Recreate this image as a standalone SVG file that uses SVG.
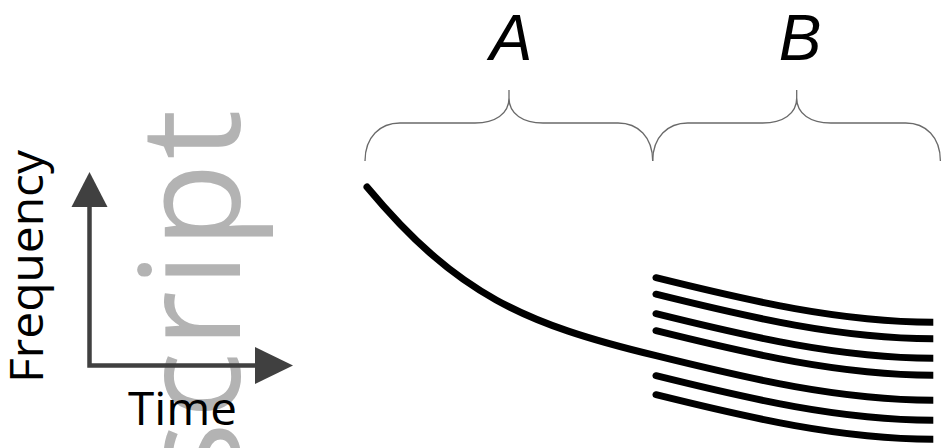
<svg xmlns="http://www.w3.org/2000/svg" width="942" height="448" viewBox="0 0 942 448">
  <style>
    .wm { font-family: "Open Sans", "Noto Sans", sans-serif; font-weight: 400; fill: #b3b3b3; letter-spacing: 3.5px; }
    .ax { fill: none; stroke: #404040; stroke-width: 4.5; stroke-linejoin: miter; }
    .head { fill: #404040; }
    .lbl { font-family: "Open Sans", "Noto Sans", sans-serif; font-size: 45px; fill: #000; }
    .sec { font-family: "Liberation Sans", Arial, sans-serif; font-style: italic; font-size: 64px; fill: #000; text-anchor: middle; }
    .brace { fill: none; stroke: #6a6a6a; stroke-width: 1.3; }
    .tone { fill: none; stroke: #000; stroke-width: 7; stroke-linecap: round; }
  </style>
  <defs>
    <clipPath id="clipR">
      <rect x="0" y="0" width="933.3" height="448"/>
    </clipPath>
    <path id="brace" d="M365,161 C365,137 380,123 400,123 L475,123 C495,123 509,114 509,98 L509,90 M509,98 C509,114 523,123 543,123 L618,123 C638,123 652.7,137 652.7,161"/>
    <path id="bline" d="M656,355.7 C750,379 840,400 933,400.3 L945,400.3"/>
  </defs>
  <rect width="942" height="448" fill="#fff"/>

  <g id="watermark">
    <text class="wm" font-size="140" text-anchor="end" transform="translate(240,106) rotate(-90)">script</text>
  </g>

  <g id="axes">
    <path class="ax" d="M89.5,206 V365.5 H257"/>
    <polygon class="head" points="89.5,172 71.5,207 107.5,207"/>
    <polygon class="head" points="293,365.5 255,347 255,384"/>
    <text class="lbl" transform="translate(43,383) rotate(-90)" textLength="233" lengthAdjust="spacingAndGlyphs">Frequency</text>
    <text class="lbl" x="128" y="425" textLength="109" lengthAdjust="spacingAndGlyphs">Time</text>
  </g>

  <g id="sectionA">
    <use href="#brace" class="brace"/>
    <text class="sec" x="511" y="60">A</text>
  </g>
  <g id="sectionB">
    <use href="#brace" class="brace" transform="translate(287.7,0)"/>
    <text class="sec" x="800" y="60">B</text>
  </g>

  <g id="connectors" clip-path="url(#clipR)">
    <path class="tone" d="M367,187 C457,295 525,324 656,355.7 C750,379 840,400 933,400.3 L945,400.3"/>
    <use href="#bline" class="tone" transform="translate(0,-78)"/>
    <use href="#bline" class="tone" transform="translate(0,-61.5)"/>
    <use href="#bline" class="tone" transform="translate(0,-42)"/>
    <use href="#bline" class="tone" transform="translate(0,-25)"/>
    <use href="#bline" class="tone" transform="translate(0,20)"/>
    <use href="#bline" class="tone" transform="translate(0,39)"/>
  </g>
</svg>
